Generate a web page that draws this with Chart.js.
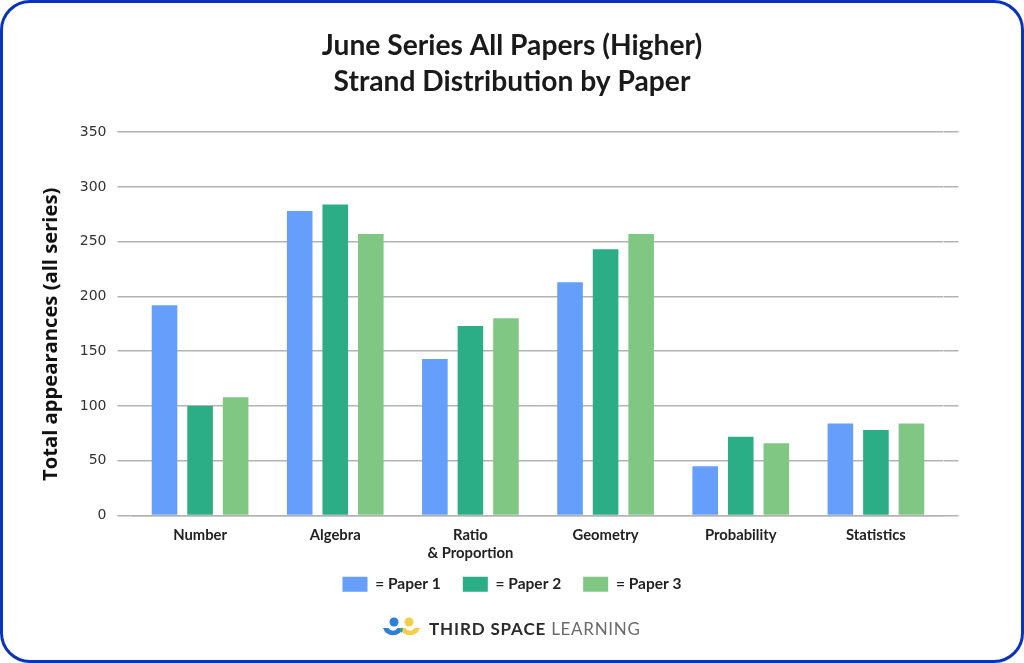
<!DOCTYPE html>
<html>
<head>
<meta charset="utf-8">
<script src="https://cdn.jsdelivr.net/npm/chart.js@4"></script>
<style>
  html, body { margin: 0; padding: 0; background: #fff; }
  #card { position: absolute; left: 0; top: 0; width: 1024px; height: 663px; box-sizing: border-box; border: 3.5px solid #0a33bd; border-radius: 30px; pointer-events: none; }
  #myChart { position: absolute; left: 0; top: 0; }
  #logo { position: absolute; left: 382px; top: 616px; width: 40px; height: 26px; }
  #brand { position: absolute; left: 429px; top: 618px; font: 700 17px Lato, sans-serif; letter-spacing: 0.85px; color: #2b2b2b; white-space: nowrap; }
  #brand span { font-weight: 400; color: #6b6b6b; letter-spacing: 0.7px; }
</style>
</head>
<body>
<canvas id="myChart" width="1024" height="663"></canvas>
<div id="card"></div>
<svg id="logo" viewBox="0 0 40 26">
  <circle cx="12" cy="6" r="4.5" fill="#2f7fd6"/>
  <circle cx="27" cy="6" r="4.5" fill="#f2cf4a"/>
  <path d="M1 12 A 10.5 10.5 0 0 0 21 12 L15.5 12 A 5 5 0 0 1 6.5 12 Z" fill="#2f7fd6"/>
  <path d="M18 12 A 10.5 10.5 0 0 0 38 12 L32.5 12 A 5 5 0 0 1 23.5 12 Z" fill="#f2cf4a"/>
  <path d="M18 12 L21 12 A 10.5 10.5 0 0 1 19.5 17 A 10.5 10.5 0 0 1 18 12 Z" fill="#3aa77c"/>
</svg>
<div id="brand">THIRD SPACE <span>LEARNING</span></div>
<script>
var labels = ['Number', 'Algebra', ['Ratio', '& Proportion'], 'Geometry', 'Probability', 'Statistics'];
var paper1 = [192, 278, 143, 213, 45, 84];
var paper2 = [100, 284, 173, 243, 72, 78];
var paper3 = [108, 257, 180, 257, 66, 84];

var gridColor = '#b3b3b3';

// the x labels get clipped to the axis box, the two line label needs a bit more room
var roomForLabels = {
    id: 'roomForLabels',
    afterLayout: function (chart) { chart.scales.x.bottom += 14; }
};

var ctx = document.getElementById('myChart').getContext('2d');

var myChart = new Chart(ctx, {
    type: 'bar',
    plugins: [roomForLabels],
    data: {
        labels: labels,
        datasets: [
            { label: '= Paper 1', data: paper1, backgroundColor: '#659ffb' },
            { label: '= Paper 2', data: paper2, backgroundColor: '#2bae85' },
            { label: '= Paper 3', data: paper3, backgroundColor: '#81c784' }
        ]
    },
    options: {
        responsive: false,
        animation: false,
        categoryPercentage: 0.789,
        barPercentage: 0.72,
        layout: { padding: { left: 39, right: 39, top: 28, bottom: 61 } },
        plugins: {
            title: {
                display: true,
                text: ['June Series All Papers (Higher)', 'Strand Distribution by Paper'],
                color: '#1a1a1a',
                font: { family: 'Lato', size: 28.2, weight: 'bold', lineHeight: 1.28 },
                padding: { top: 0, bottom: 32 }
            },
            legend: {
                position: 'bottom',
                labels: {
                    boxWidth: 25,
                    boxHeight: 15,
                    padding: 22,
                    color: '#222',
                    font: { family: 'Lato', size: 15.5, weight: 'bold' }
                }
            },
            tooltip: { enabled: false }
        },
        scales: {
            x: {
                grid: { display: false },
                border: { color: gridColor, width: 1.5 },
                ticks: {
                    color: '#222',
                    padding: 3,
                    maxRotation: 0,
                    font: { family: 'Lato', size: 14.8, weight: 'bold', lineHeight: 1.22 }
                },
                afterFit: function (scale) { scale.height = 39; }
            },
            y: {
                min: 0,
                max: 350,
                ticks: {
                    stepSize: 50,
                    color: '#333',
                    padding: 11,
                    font: { family: 'DejaVu Sans', size: 14 }
                },
                grid: { color: gridColor, lineWidth: 1.5, tickColor: gridColor, tickLength: 15 },
                border: { display: false },
                title: {
                    display: true,
                    // trailing spaces push the title down, it sits below the plot's centre
                    text: 'Total appearances (all series)    ',
                    color: '#111',
                    padding: { top: 0, bottom: 0 },
                    font: { family: 'Open Sans', size: 20.2, weight: 'bold' }
                },
                afterFit: function (scale) { scale.width = 93.5; }
            },
            // spare axis on the right, only so the gridlines run past the last group
            y2: {
                position: 'right',
                min: 0,
                max: 350,
                ticks: { display: false, stepSize: 50 },
                grid: { drawOnChartArea: false, color: gridColor, lineWidth: 1.5, tickLength: 15 },
                border: { display: false },
                afterFit: function (scale) { scale.width = 41.5; }
            }
        }
    }
});
</script>
</body>
</html>
